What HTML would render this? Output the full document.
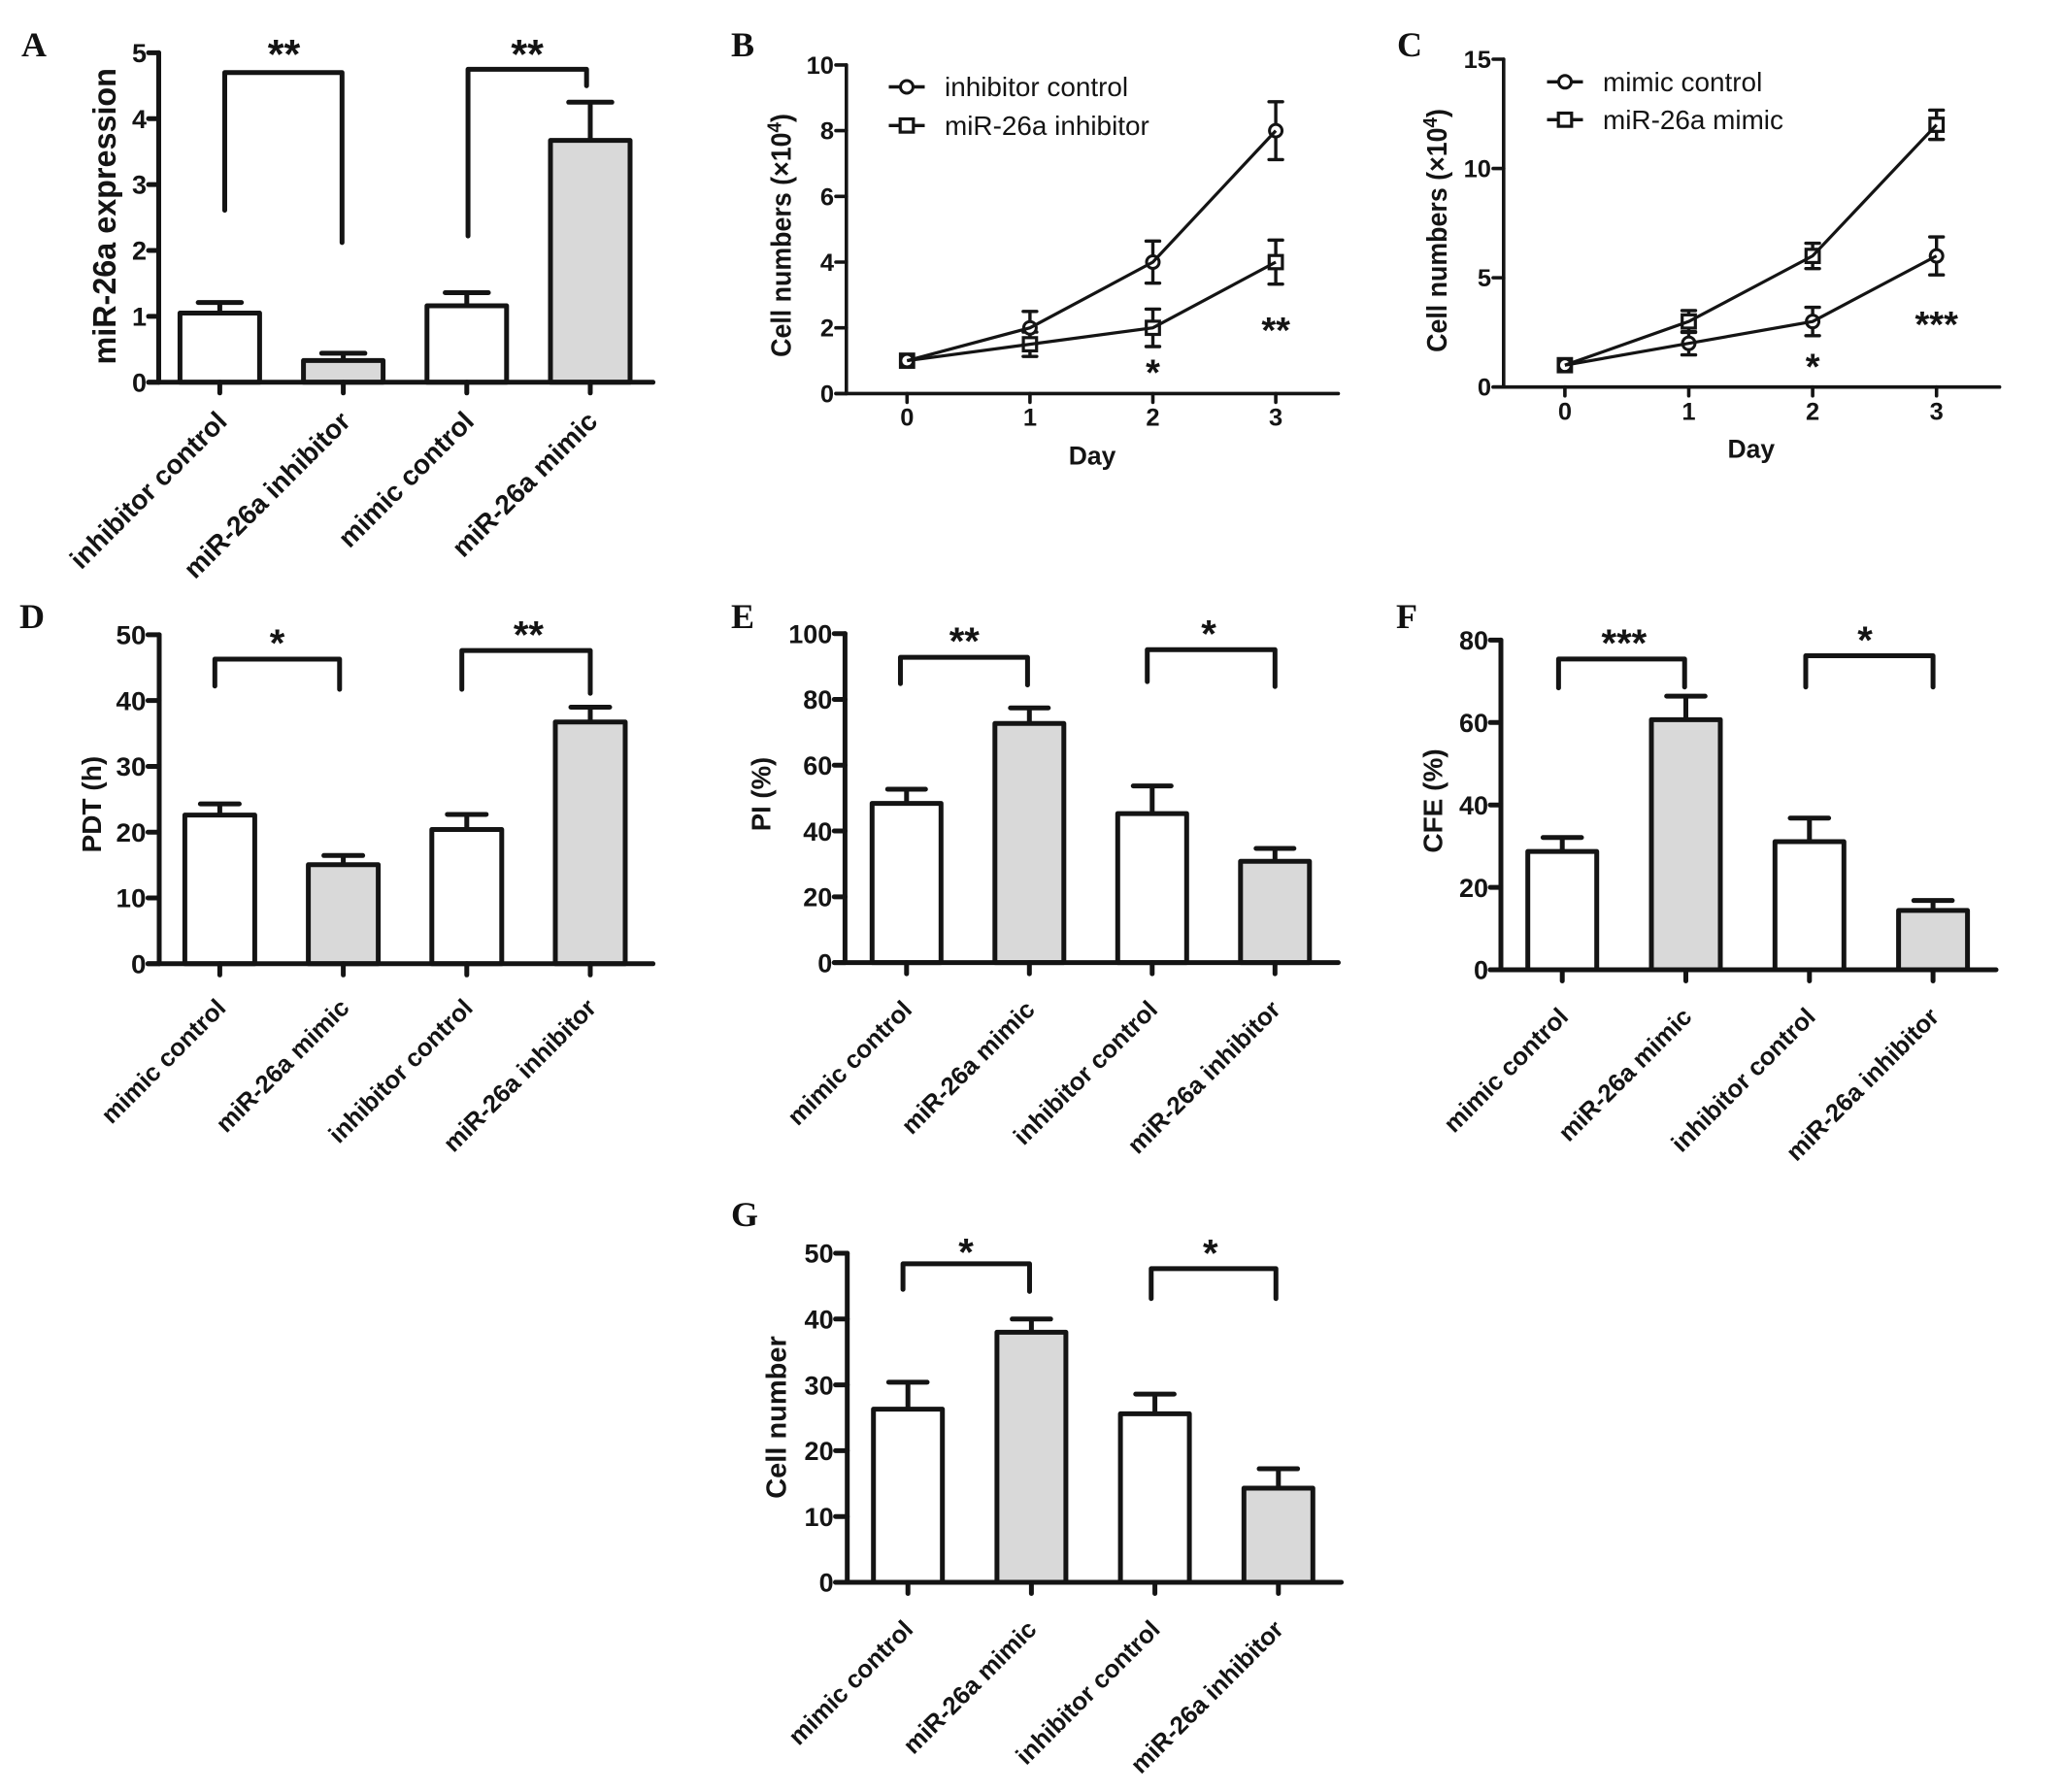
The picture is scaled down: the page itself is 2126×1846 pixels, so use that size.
<!DOCTYPE html>
<html lang="en">
<head>
<meta charset="utf-8">
<title>miR-26a figure panels</title>
<style>
html,body{margin:0;padding:0;background:#fff;}
svg{display:block;}
text{font-family:"Liberation Sans",Arial,sans-serif;fill:#141414;}
.letter{font-family:"Liberation Serif","Times New Roman",serif;font-weight:bold;font-size:36px;fill:#111;}
</style>
</head>
<body>
<svg id="figure" xmlns="http://www.w3.org/2000/svg" width="2126" height="1846" viewBox="0 0 2126 1846">
  <rect x="0" y="0" width="2126" height="1846" fill="#ffffff"/>
  <g id="panel-a"><text class="letter" x="22" y="58">A</text></g>
  <g id="panel-b"><text class="letter" x="753" y="58">B</text></g>
  <g id="panel-c"><text class="letter" x="1439" y="58">C</text></g>
  <g id="panel-d"><text class="letter" x="20" y="647">D</text></g>
  <g id="panel-e"><text class="letter" x="753" y="647">E</text></g>
  <g id="panel-f"><text class="letter" x="1438" y="647">F</text></g>
  <g id="panel-g"><text class="letter" x="753" y="1263">G</text></g>
</svg>
<script>
// ---------- Panel A data ----------
const aCategories = ['inhibitor control', 'miR-26a inhibitor', 'mimic control', 'miR-26a mimic'];
const aValues = [1.05, 0.33, 1.16, 3.67];
const aErrors = [0.16, 0.11, 0.20, 0.58];
const aTicks = [0, 1, 2, 3, 4, 5];
const aBrackets = [[0.04, 0.99, 4.7, 2.61, 2.12], [2.01, 2.97, 4.75, 2.22, 4.5]];
const aStars = [['**', 0.52, 5.06], ['**', 2.49, 5.06]];

// ---------- Panel B data ----------
const bDays = [0, 1, 2, 3];
const bControl = [1, 2, 4, 8];
const bControlErr = [0, 0.5, 0.64, 0.88];
const bTreated = [1, 1.5, 2, 4];
const bTreatedErr = [0, 0.37, 0.57, 0.67];
const bTicks = [0, 2, 4, 6, 8, 10];
const bLegend = ['inhibitor control', 'miR-26a inhibitor'];
const bStars = [['*', 2, 0.79], ['**', 3, 2.07]];

// ---------- Panel C data ----------
const cDays = [0, 1, 2, 3];
const cControl = [1, 2, 3, 6];
const cControlErr = [0, 0.53, 0.65, 0.87];
const cTreated = [1, 3, 6, 12];
const cTreatedErr = [0, 0.5, 0.58, 0.67];
const cTicks = [0, 5, 10, 15];
const cLegend = ['mimic control', 'miR-26a mimic'];
const cStars = [['*', 2, 1.15], ['***', 3, 3.08]];

// ---------- Panel D data ----------
const dCategories = ['mimic control', 'miR-26a mimic', 'inhibitor control', 'miR-26a inhibitor'];
const dValues = [22.6, 15.05, 20.4, 36.75];
const dErrors = [1.7, 1.4, 2.3, 2.25];
const dTicks = [0, 10, 20, 30, 40, 50];
const dBrackets = [[-0.04, 0.97, 46.3, 42.2, 41.7], [1.96, 3.0, 47.6, 41.7, 41.1]];
const dStars = [['*', 0.465, 49.5], ['**', 2.5, 50.8]];

// ---------- Panel E data ----------
const eCategories = ['mimic control', 'miR-26a mimic', 'inhibitor control', 'miR-26a inhibitor'];
const eValues = [48.4, 72.7, 45.3, 30.8];
const eErrors = [4.3, 4.7, 8.4, 3.9];
const eTicks = [0, 20, 40, 60, 80, 100];
const eBrackets = [[-0.05, 0.985, 92.8, 84.8, 84.4], [1.96, 3.0, 95.1, 85.4, 83.9]];
const eStars = [['**', 0.47, 99.2], ['*', 2.46, 101.5]];

// ---------- Panel F data ----------
const fCategories = ['mimic control', 'miR-26a mimic', 'inhibitor control', 'miR-26a inhibitor'];
const fValues = [28.7, 60.7, 31.1, 14.4];
const fErrors = [3.4, 5.7, 5.7, 2.4];
const fTicks = [0, 20, 40, 60, 80];
const fBrackets = [[-0.03, 0.99, 75.4, 68.4, 68.6], [1.97, 3.0, 76.2, 68.6, 68.6]];
const fStars = [['***', 0.5, 80.5], ['*', 2.45, 81.2]];

// ---------- Panel G data ----------
const gCategories = ['mimic control', 'miR-26a mimic', 'inhibitor control', 'miR-26a inhibitor'];
const gValues = [26.3, 38, 25.6, 14.3];
const gErrors = [4.1, 2, 3, 2.95];
const gTicks = [0, 10, 20, 30, 40, 50];
const gBrackets = [[-0.04, 0.985, 48.4, 44.5, 44.2], [1.97, 2.98, 47.65, 43.1, 43.1]];
const gStars = [['*', 0.47, 50.9], ['*', 2.45, 50.8]];

const barFills = ['#ffffff', '#d9d9d9', '#ffffff', '#d9d9d9'];

// ---------- helpers ----------
const SVGNS = 'http://www.w3.org/2000/svg';
const INK = '#141414';

function slug(s) {
  return String(s).toLowerCase().replace(/[^a-z0-9]+/g, '-').replace(/^-|-$/g, '');
}
function seg(parent, x1, y1, x2, y2, w, cap) {
  const el = document.createElementNS(SVGNS, 'line');
  el.setAttribute('x1', x1);
  el.setAttribute('y1', y1);
  el.setAttribute('x2', x2);
  el.setAttribute('y2', y2);
  el.setAttribute('stroke', INK);
  el.setAttribute('stroke-width', w);
  el.setAttribute('stroke-linecap', cap || 'round');
  parent.appendChild(el);
  return el;
}
function label(parent, str, x, y, size, o) {
  o = o || {};
  const el = document.createElementNS(SVGNS, 'text');
  el.setAttribute('font-size', size);
  el.setAttribute('font-weight', o.weight || 'bold');
  el.setAttribute('text-anchor', o.anchor || 'middle');
  el.setAttribute('transform', 'translate(' + x + ' ' + y + ') rotate(' + (o.rot || 0) + ') scale(' + (o.sx || 1) + ' 1)');
  el.textContent = str;
  parent.appendChild(el);
  return el;
}
function linear(d0, d1, r0, r1) {
  return function (v) { return r0 + (v - d0) * (r1 - r0) / (d1 - d0); };
}

function drawAxes(g, c, ticks, xPositions, yScale) {
  const y0 = yScale(ticks[0]);
  const yTop = yScale(ticks[ticks.length - 1]);
  const yAxis = seg(g, c.axisX, yTop, c.axisX, y0, c.axisW);
  
  
  const xAxis = seg(g, c.axisLeft, y0, c.axisRight, y0, c.axisW);
  
  
  ticks.forEach(function (t) {
    const tk = seg(g, c.axisLeft, yScale(t), c.axisX, yScale(t), c.axisW);
    
    
    const lb = label(g, String(t), c.axisLeft - 2, yScale(t) + c.tickSize * 0.36, c.tickSize, { anchor: 'end', sx: c.tickSx });
    
    
  });
  xPositions.forEach(function (x) {
    const tk = seg(g, x, y0, x, y0 + c.tickLen, c.axisW);
    
    
  });
}

function drawStars(g, stars, xScale, yScale, size) {
  stars.forEach(function (s) {
    const st = label(g, s[0], xScale(s[1]), yScale(s[2]) + size * 0.47, size);
    
    
  });
}

function drawBarPanel(id, c, categories, values, errors, ticks, brackets, stars) {
  const g = document.getElementById(id);
  const xScale = linear(0, 1, c.x0, c.x0 + c.step);
  const yScale = linear(ticks[0], ticks[ticks.length - 1], c.yZero, c.yTop);
  const y0 = yScale(ticks[0]);
  categories.forEach(function (cat, i) {
    const x = xScale(i);
    const top = yScale(values[i]);
    const errTop = yScale(values[i] + errors[i]);
    const stem = seg(g, x, top, x, errTop, c.lineW, 'butt');
    
    
    const capLine = seg(g, x - c.capW / 2, errTop, x + c.capW / 2, errTop, c.lineW);
    
    
    const r = document.createElementNS(SVGNS, 'rect');
    r.setAttribute('x', x - c.barW / 2 + c.lineW / 2);
    r.setAttribute('y', top);
    r.setAttribute('width', c.barW - c.lineW);
    r.setAttribute('height', y0 - top);
    r.setAttribute('fill', barFills[i]);
    r.setAttribute('stroke', INK);
    r.setAttribute('stroke-width', c.lineW);
    r.setAttribute('stroke-linejoin', 'round');
    
    
    g.appendChild(r);
    const lb = label(g, cat, x + c.labelDx, y0 + c.labelDy, c.labelSize, { anchor: 'end', rot: -45 });
    
    
  });
  drawAxes(g, c, ticks, categories.map(function (_, i) { return xScale(i); }), yScale);
  brackets.forEach(function (b) {
    const xl = xScale(b[0]), xr = xScale(b[1]), yt = yScale(b[2]);
    const br = document.createElementNS(SVGNS, 'path');
    br.setAttribute('d', 'M' + xl + ' ' + yScale(b[3]) + 'L' + xl + ' ' + yt + 'L' + xr + ' ' + yt + 'L' + xr + ' ' + yScale(b[4]));
    br.setAttribute('fill', 'none');
    br.setAttribute('stroke', INK);
    br.setAttribute('stroke-width', c.lineW);
    br.setAttribute('stroke-linecap', 'round');
    br.setAttribute('stroke-linejoin', 'round');
    
    
    g.appendChild(br);
  });
  drawStars(g, stars, xScale, yScale, c.starSize);
  const yt = label(g, c.yTitle, c.titleX, c.titleY, c.titleSize, { rot: -90, sx: c.titleSx });
  
  
}

function marker(g, kind, x, y) {
  if (kind === 'circle') {
    const m = document.createElementNS(SVGNS, 'circle');
    m.setAttribute('cx', x);
    m.setAttribute('cy', y);
    m.setAttribute('r', 6.5);
    m.setAttribute('fill', '#ffffff');
    m.setAttribute('stroke', INK);
    m.setAttribute('stroke-width', 3);
    g.appendChild(m);
    return m;
  }
  const m = document.createElementNS(SVGNS, 'rect');
  m.setAttribute('x', x - 6.8);
  m.setAttribute('y', y - 6.8);
  m.setAttribute('width', 13.6);
  m.setAttribute('height', 13.6);
  m.setAttribute('fill', '#ffffff');
  m.setAttribute('stroke', INK);
  m.setAttribute('stroke-width', 3.2);
  g.appendChild(m);
  return m;
}

function drawLinePanel(id, c, days, control, controlErr, treated, treatedErr, ticks, legendNames, stars) {
  const g = document.getElementById(id);
  const xScale = linear(0, 1, c.x0, c.x0 + c.step);
  const yScale = linear(ticks[0], ticks[ticks.length - 1], c.yZero, c.yTop);
  drawAxes(g, c, ticks, days.map(xScale), yScale);
  days.forEach(function (d) {
    const lb = label(g, String(d), xScale(d), c.dayTickY, c.tickSize, { sx: c.tickSx });
    
    
  });
  const series = [
    { kind: 'square', vals: treated, errs: treatedErr, name: legendNames[1] },
    { kind: 'circle', vals: control, errs: controlErr, name: legendNames[0] }
  ];
  series.forEach(function (s) {
    days.forEach(function (d, i) {
      if (!s.errs[i]) return;
      const x = xScale(d);
      const hi = yScale(s.vals[i] + s.errs[i]), lo = yScale(s.vals[i] - s.errs[i]);
      const stem = seg(g, x, hi, x, lo, 3.4, 'butt');
      
      
      const c1 = seg(g, x - 7, hi, x + 7, hi, 3.4);
      
      
      const c2 = seg(g, x - 7, lo, x + 7, lo, 3.4);
      
      
    });
  });
  series.forEach(function (s) {
    days.forEach(function (d, i) {
      const m = marker(g, s.kind, xScale(d), yScale(s.vals[i]));
      
      
    });
  });
  series.forEach(function (s) {
    const pl = document.createElementNS(SVGNS, 'polyline');
    pl.setAttribute('points', days.map(function (d, i) { return xScale(d) + ',' + yScale(s.vals[i]); }).join(' '));
    pl.setAttribute('fill', 'none');
    pl.setAttribute('stroke', INK);
    pl.setAttribute('stroke-width', 3.2);
    
    
    g.appendChild(pl);
  });
  legendNames.forEach(function (n, i) {
    const ly = c.legendY[i];
    const ll = seg(g, c.legendX - 18.5, ly, c.legendX + 18.5, ly, 3.4, 'butt');
    
    
    const lm = marker(g, i === 0 ? 'circle' : 'square', c.legendX, ly);
    
    
    const lt = label(g, n, c.legendTextX, ly + 9.5, 27.9, { weight: 'normal', anchor: 'start', sx: 1 });
    
    
  });
  drawStars(g, stars, xScale, yScale, 38);
  const dayLb = label(g, 'Day', c.dayX, c.dayY, 26.5, { sx: 1 });
  
  
  const yt = label(g, 'Cell numbers (\u00d710', c.titleX, c.titleY, 28.5, { rot: -90, sx: 0.94 });
  
  
  const sup = document.createElementNS(SVGNS, 'tspan');
  sup.setAttribute('dy', '-10');
  sup.setAttribute('font-size', '20');
  sup.textContent = '4';
  yt.appendChild(sup);
  const close = document.createElementNS(SVGNS, 'tspan');
  close.setAttribute('dy', '10');
  close.textContent = ')';
  yt.appendChild(close);
}

// ---------- draw ----------
drawBarPanel('panel-a', {
  x0: 226.4, step: 127.2, yZero: 393.8, yTop: 54.4, axisX: 163.5, axisLeft: 153, axisRight: 672.6,
  axisW: 5, lineW: 5, tickLen: 11, barW: 87, capW: 44.5, tickSize: 26.5, tickSx: 1.02, starSize: 43,
  labelSize: 28, labelDx: 9, labelDy: 42,
  yTitle: 'miR-26a expression', titleX: 119, titleY: 222.8, titleSize: 33, titleSx: 0.98
}, aCategories, aValues, aErrors, aTicks, aBrackets, aStars);

drawLinePanel('panel-b', {
  x0: 934.3, step: 126.6, yZero: 405.4, yTop: 66.9, axisX: 871.8, axisLeft: 861, axisRight: 1378.5,
  axisW: 3.6, tickLen: 9, tickSize: 25, tickSx: 1.02, dayTickY: 438.7,
  legendX: 934, legendTextX: 973, legendY: [89.5, 129.3],
  dayX: 1125, dayY: 478.3, titleX: 814.3, titleY: 242.5
}, bDays, bControl, bControlErr, bTreated, bTreatedErr, bTicks, bLegend, bStars);

drawLinePanel('panel-c', {
  x0: 1611.9, step: 127.6, yZero: 398.7, yTop: 61, axisX: 1548.8, axisLeft: 1538, axisRight: 2059.6,
  axisW: 3.6, tickLen: 9, tickSize: 25, tickSx: 1.02, dayTickY: 432.7,
  legendX: 1612, legendTextX: 1651, legendY: [84.3, 123.3],
  dayX: 1803.8, dayY: 471.7, titleX: 1490, titleY: 237.5
}, cDays, cControl, cControlErr, cTreated, cTreatedErr, cTicks, cLegend, cStars);

drawBarPanel('panel-d', {
  x0: 226.4, step: 127.2, yZero: 992.8, yTop: 653.9, axisX: 164, axisLeft: 152.4, axisRight: 672.6,
  axisW: 5, lineW: 5, tickLen: 11.5, barW: 77, capW: 40, tickSize: 27, tickSx: 1.03, starSize: 40,
  labelSize: 25.7, labelDx: 7.6, labelDy: 47,
  yTitle: 'PDT (h)', titleX: 103.8, titleY: 828.6, titleSize: 28, titleSx: 1
}, dCategories, dValues, dErrors, dTicks, dBrackets, dStars);

drawBarPanel('panel-e', {
  x0: 933.8, step: 126.5, yZero: 991.6, yTop: 652.7, axisX: 870.4, axisLeft: 859.3, axisRight: 1378.5,
  axisW: 5, lineW: 5, tickLen: 11.5, barW: 76, capW: 39, tickSize: 27, tickSx: 1, starSize: 40,
  labelSize: 25.7, labelDx: 7, labelDy: 50,
  yTitle: 'PI (%)', titleX: 793.7, titleY: 818, titleSize: 27.5, titleSx: 1
}, eCategories, eValues, eErrors, eTicks, eBrackets, eStars);

drawBarPanel('panel-f', {
  x0: 1609.2, step: 127.3, yZero: 999, yTop: 659.4, axisX: 1546, axisLeft: 1535, axisRight: 2056,
  axisW: 5, lineW: 5, tickLen: 11.5, barW: 76, capW: 39.6, tickSize: 27, tickSx: 1, starSize: 40,
  labelSize: 25.7, labelDx: 7.6, labelDy: 50,
  yTitle: 'CFE (%)', titleX: 1485.3, titleY: 825, titleSize: 28, titleSx: 1
}, fCategories, fValues, fErrors, fTicks, fBrackets, fStars);

drawBarPanel('panel-g', {
  x0: 935.2, step: 127.2, yZero: 1630, yTop: 1291, axisX: 872.7, axisLeft: 860.6, axisRight: 1381.6,
  axisW: 5, lineW: 5, tickLen: 11.5, barW: 76, capW: 39.6, tickSize: 27, tickSx: 1, starSize: 40,
  labelSize: 25.7, labelDx: 6.7, labelDy: 50,
  yTitle: 'Cell number', titleX: 809.3, titleY: 1460, titleSize: 29, titleSx: 1
}, gCategories, gValues, gErrors, gTicks, gBrackets, gStars);
</script>
</body>
</html>
